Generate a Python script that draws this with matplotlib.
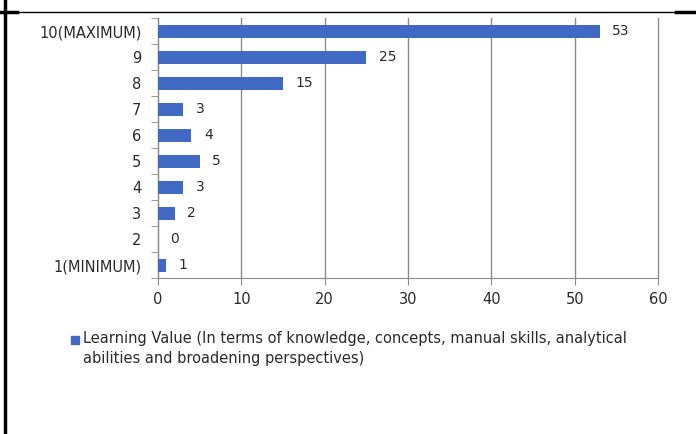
import matplotlib
matplotlib.use("Agg")
import matplotlib.pyplot as plt
from matplotlib.lines import Line2D

plt.rcParams["font.family"] = ["DejaVu Sans"]

categories = ["1(MINIMUM)", "2", "3", "4", "5", "6", "7", "8", "9", "10(MAXIMUM)"]
values = [1, 0, 2, 3, 5, 4, 3, 15, 25, 53]
x_ticks = [0, 10, 20, 30, 40, 50, 60]
legend_text = ("Learning Value (In terms of knowledge, concepts, manual skills, analytical\n"
               "abilities and broadening perspectives)")

BAR = "#3F69C2"
GRID = "#8C8C8C"
TXT = "#2b2b2b"
FS = 10.5

fig = plt.figure(figsize=(6.96, 4.34), dpi=100)
ax = fig.add_axes([158 / 696, 1 - 278 / 434, 500 / 696, 260 / 434])

y = list(range(len(categories)))
ax.barh(y, values, height=0.5, color=BAR, zorder=3)
for yi, v in zip(y, values):
    ax.annotate(str(v), (v, yi), xytext=(9, 0), textcoords="offset points",
                va="center", ha="left", fontsize=FS - 0.5, color=TXT)

ax.set_xlim(0, 60)
ax.set_ylim(-0.5, len(categories) - 0.5)
ax.set_xticks(x_ticks)
ax.set_yticks(y)
ax.set_yticklabels(categories)
ax.set_yticks([i - 0.5 for i in range(len(categories) + 1)], minor=True)
ax.tick_params(axis="y", which="major", length=0, pad=12, labelsize=FS, colors=TXT)
ax.tick_params(axis="y", which="minor", length=5, color=GRID, direction="out")
ax.tick_params(axis="x", length=5, color=GRID, pad=5, labelsize=FS, colors=TXT)
ax.xaxis.grid(True, color=GRID, lw=1.0, zorder=0)
for gl in ax.get_xgridlines():
    gl.set_clip_on(False)
for s in ["top", "right"]:
    ax.spines[s].set_visible(False)
for s in ["left", "bottom"]:
    ax.spines[s].set_color(GRID)

# legend: square key beside the first line of a two-line label
fig.add_artist(Line2D([75 / 696], [1 - 340 / 434], marker="s", ls="none", color=BAR,
                      markersize=5.5, transform=fig.transFigure))
fig.text(83 / 696, 1 - 331 / 434, legend_text, ha="left", va="top", fontsize=FS,
         color=TXT, linespacing=1.45)

# surrounding table frame
fig.add_artist(Line2D([5 / 696, 5 / 696], [0, 1], color="black", lw=2.5, transform=fig.transFigure))
fig.add_artist(Line2D([0, 1], [1 - 11.5 / 434, 1 - 11.5 / 434], color="black", lw=1.0,
                      transform=fig.transFigure))
fig.add_artist(Line2D([0, 17 / 696], [1 - 12 / 434, 1 - 12 / 434], color="black", lw=2.5,
                      transform=fig.transFigure))
fig.add_artist(Line2D([676 / 696, 1], [1 - 12 / 434, 1 - 12 / 434], color="black", lw=2.5,
                      transform=fig.transFigure))

fig.savefig("out.png", dpi=100)
